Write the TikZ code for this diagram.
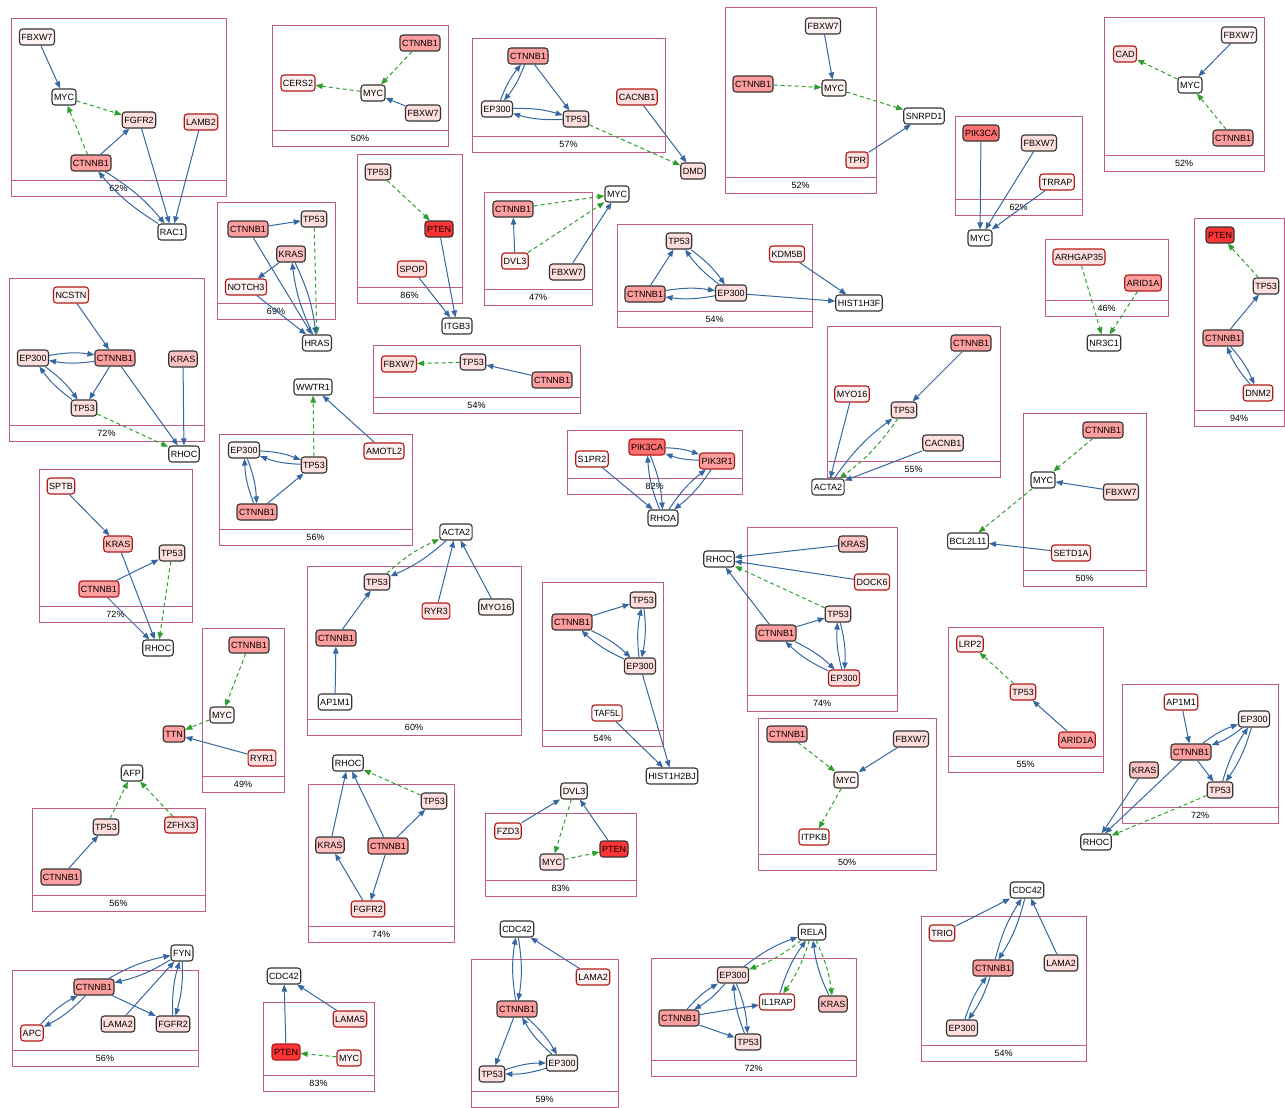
\documentclass[tikz,border=0pt]{standalone}
\usepackage{fontspec}
\setmainfont{Liberation Sans}
\usetikzlibrary{arrows.meta}
\definecolor{clusc}{HTML}{C25C86}
\definecolor{eblue}{HTML}{3567A0}
\definecolor{egreen}{HTML}{2E9E2E}
\definecolor{mutred}{HTML}{B01818}
\definecolor{lv0}{HTML}{FFFFFF}
\definecolor{lv1}{HTML}{FFF2F2}
\definecolor{lv2}{HTML}{FFDEDE}
\definecolor{lv3}{HTML}{FFC2C2}
\definecolor{lv4}{HTML}{FF9E9E}
\definecolor{lv5}{HTML}{FF7070}
\definecolor{lv6}{HTML}{FF3434}
\newcommand{\modframe}[6]{%
  \draw[clus] (#2,#3) rectangle (#4,#5);
  \draw[clus] (#2,#5-16) -- (#4,#5-16);
  \node[pct] (#1) at ({(#2+#4)/2},#5-8) {#6};}

\begin{document}
\begin{tikzpicture}[
  x=1pt, y=-1pt,
  >={Triangle[length=7pt,width=5.5pt]},
  gene/.style={draw=black!80, line width=1.1pt, rounded corners=3pt, fill=lv0, inner xsep=2pt, inner ysep=0pt, minimum height=16pt, font=\fontsize{9}{10}\selectfont},
  mut/.style={draw=mutred},
  pct/.style={font=\fontsize{9}{10}\selectfont, inner sep=0pt},
  clus/.style={draw=clusc, line width=1pt},
  arr/.style={->, draw=eblue, line width=1pt},
  act/.style={->, draw=egreen, line width=1pt, dash pattern=on 4pt off 3pt},
  arrb/.style={arr, bend left=9},
  actb/.style={act, bend left=9}
]
  \useasboundingbox (0,0) rectangle (1285,1108);

  \modframe{pct-a}{11}{19}{226}{196}{62\%}
  \modframe{pct-b}{272}{26}{448}{146}{50\%}
  \modframe{pct-c}{472}{39}{665}{152}{57\%}
  \modframe{pct-d}{725}{8}{876}{193}{52\%}
  \modframe{pct-e}{955}{116}{1082}{215}{62\%}
  \modframe{pct-f}{1104}{18}{1264}{171}{52\%}
  \modframe{pct-g}{1045}{239}{1168}{316}{46\%}
  \modframe{pct-h}{1194}{218}{1284}{426}{94\%}
  \modframe{pct-i}{217}{202}{335}{319}{69\%}
  \modframe{pct-j}{357}{154}{462}{303}{86\%}
  \modframe{pct-k}{484}{192}{592}{305}{47\%}
  \modframe{pct-l}{617}{224}{812}{327}{54\%}
  \modframe{pct-m}{9}{278}{204}{441}{72\%}
  \modframe{pct-n}{219}{434}{412}{545}{56\%}
  \modframe{pct-o}{373}{345}{580}{413}{54\%}
  \modframe{pct-p}{39}{469}{192}{622}{72\%}
  \modframe{pct-q}{202}{628}{284}{792}{49\%}
  \modframe{pct-r}{307}{566}{521}{735}{60\%}
  \modframe{pct-s}{567}{430}{742}{494}{82\%}
  \modframe{pct-t}{827}{326}{1000}{477}{55\%}
  \modframe{pct-u}{1023}{413}{1146}{586}{50\%}
  \modframe{pct-v}{747}{527}{897}{711}{74\%}
  \modframe{pct-w}{542}{582}{663}{746}{54\%}
  \modframe{pct-x}{948}{627}{1103}{772}{55\%}
  \modframe{pct-y}{1122}{684}{1278}{823}{72\%}
  \modframe{pct-z}{758}{718}{936}{870}{50\%}
  \modframe{pct-aa}{32}{808}{205}{911}{56\%}
  \modframe{pct-ab}{12}{970}{198}{1066}{56\%}
  \modframe{pct-ac}{263}{1002}{374}{1091}{83\%}
  \modframe{pct-ad}{308}{784}{454}{942}{74\%}
  \modframe{pct-ae}{485}{813}{636}{896}{83\%}
  \modframe{pct-af}{471}{959}{618}{1107}{59\%}
  \modframe{pct-ag}{651}{958}{856}{1076}{72\%}
  \modframe{pct-ah}{921}{916}{1086}{1061}{54\%}

  \node[gene, fill=lv1] (fbxw7-a) at (37,37) {FBXW7};
  \node[gene] (myc-a) at (64,97) {MYC};
  \node[gene, fill=lv2] (fgfr2-a) at (139,120) {FGFR2};
  \node[gene, mut, fill=lv2] (lamb2-a) at (201,122) {LAMB2};
  \node[gene, fill=lv4] (ctnnb1-a) at (91,163) {CTNNB1};
  \node[gene] (rac1-a) at (172,232) {RAC1};
  \draw[arr] (fbxw7-a) -- (myc-a);
  \draw[act] (myc-a) -- (fgfr2-a);
  \draw[act] (ctnnb1-a) -- (myc-a);
  \draw[arr] (ctnnb1-a) -- (fgfr2-a);
  \draw[arr] (fgfr2-a) -- (rac1-a);
  \draw[arr] (lamb2-a) -- (rac1-a);
  \draw[arrb] (ctnnb1-a) to (rac1-a);
  \draw[arrb] (rac1-a) to (ctnnb1-a);

  \node[gene, fill=lv4] (ctnnb1-b) at (420,43) {CTNNB1};
  \node[gene, fill=lv1] (myc-b) at (373,93) {MYC};
  \node[gene, fill=lv2] (fbxw7-b) at (423,113) {FBXW7};
  \node[gene, mut, fill=lv1] (cers2-b) at (298,83) {CERS2};
  \draw[act] (ctnnb1-b) -- (myc-b);
  \draw[arr] (fbxw7-b) -- (myc-b);
  \draw[act] (myc-b) -- (cers2-b);

  \node[gene, fill=lv4] (ctnnb1-c) at (528,56) {CTNNB1};
  \node[gene, fill=lv1] (ep300-c) at (497,109) {EP300};
  \node[gene, fill=lv2] (tp53-c) at (576,119) {TP53};
  \node[gene, mut, fill=lv2] (cacnb1-c) at (637,97) {CACNB1};
  \node[gene, fill=lv2] (dmd-c) at (693,171) {DMD};
  \draw[arrb] (ctnnb1-c) to (ep300-c);
  \draw[arrb] (ep300-c) to (ctnnb1-c);
  \draw[arr] (ctnnb1-c) -- (tp53-c);
  \draw[arrb] (ep300-c) to (tp53-c);
  \draw[arrb] (tp53-c) to (ep300-c);
  \draw[act] (tp53-c) -- (dmd-c);
  \draw[arr] (cacnb1-c) -- (dmd-c);

  \node[gene, fill=lv1] (fbxw7-d) at (823,26) {FBXW7};
  \node[gene, fill=lv4] (ctnnb1-d) at (753,84) {CTNNB1};
  \node[gene, fill=lv1] (myc-d) at (834,88) {MYC};
  \node[gene] (snrpd1-d) at (924,116) {SNRPD1};
  \node[gene, mut, fill=lv2] (tpr-d) at (857,160) {TPR};
  \draw[arr] (fbxw7-d) -- (myc-d);
  \draw[act] (ctnnb1-d) -- (myc-d);
  \draw[act] (myc-d) -- (snrpd1-d);
  \draw[arr] (tpr-d) -- (snrpd1-d);

  \node[gene, fill=lv5] (pik3ca-e) at (981,133) {PIK3CA};
  \node[gene, fill=lv2] (fbxw7-e) at (1039,143) {FBXW7};
  \node[gene, mut, fill=lv1] (trrap-e) at (1057,182) {TRRAP};
  \node[gene] (myc-e) at (980,238) {MYC};
  \draw[arr] (pik3ca-e) -- (myc-e);
  \draw[arr] (fbxw7-e) -- (myc-e);
  \draw[arr] (trrap-e) -- (myc-e);

  \node[gene, fill=lv1] (fbxw7-f) at (1239,35) {FBXW7};
  \node[gene, mut, fill=lv2] (cad-f) at (1125,54) {CAD};
  \node[gene] (myc-f) at (1190,85) {MYC};
  \node[gene, fill=lv4] (ctnnb1-f) at (1233,138) {CTNNB1};
  \draw[arr] (fbxw7-f) -- (myc-f);
  \draw[act] (myc-f) -- (cad-f);
  \draw[act] (ctnnb1-f) -- (myc-f);

  \node[gene, mut, fill=lv2] (arhgap35-g) at (1079,257) {ARHGAP35};
  \node[gene, mut, fill=lv4] (arid1a-g) at (1143,283) {ARID1A};
  \node[gene] (nr3c1-g) at (1104,343) {NR3C1};
  \draw[act] (arhgap35-g) -- (nr3c1-g);
  \draw[act] (arid1a-g) -- (nr3c1-g);

  \node[gene, fill=lv6] (pten-h) at (1220,235) {PTEN};
  \node[gene, fill=lv2] (tp53-h) at (1266,286) {TP53};
  \node[gene, fill=lv4] (ctnnb1-h) at (1223,338) {CTNNB1};
  \node[gene, mut, fill=lv1] (dnm2-h) at (1258,393) {DNM2};
  \draw[act] (tp53-h) -- (pten-h);
  \draw[arr] (ctnnb1-h) -- (tp53-h);
  \draw[arrb] (ctnnb1-h) to (dnm2-h);
  \draw[arrb] (dnm2-h) to (ctnnb1-h);

  \node[gene, fill=lv4] (ctnnb1-i) at (248,229) {CTNNB1};
  \node[gene, fill=lv2] (tp53-i) at (314,219) {TP53};
  \node[gene, fill=lv3] (kras-i) at (291,254) {KRAS};
  \node[gene, mut, fill=lv1] (notch3-i) at (246,287) {NOTCH3};
  \node[gene] (hras-i) at (317,343) {HRAS};
  \draw[arr] (ctnnb1-i) -- (tp53-i);
  \draw[act] (tp53-i) -- (hras-i);
  \draw[arr] (ctnnb1-i) -- (hras-i);
  \draw[arrb] (kras-i) to (hras-i);
  \draw[arrb] (hras-i) to (kras-i);
  \draw[arr] (kras-i) -- (notch3-i);
  \draw[arr] (notch3-i) -- (hras-i);

  \node[gene, fill=lv2] (tp53-j) at (378,172) {TP53};
  \node[gene, fill=lv6] (pten-j) at (439,229) {PTEN};
  \node[gene, mut, fill=lv2] (spop-j) at (412,269) {SPOP};
  \node[gene] (itgb3-j) at (457,326) {ITGB3};
  \draw[act] (tp53-j) -- (pten-j);
  \draw[arr] (pten-j) -- (itgb3-j);
  \draw[arr] (spop-j) -- (itgb3-j);

  \node[gene, fill=lv4] (ctnnb1-k) at (513,209) {CTNNB1};
  \node[gene] (myc-k) at (617,194) {MYC};
  \node[gene, mut, fill=lv1] (dvl3-k) at (515,261) {DVL3};
  \node[gene, fill=lv2] (fbxw7-k) at (567,272) {FBXW7};
  \draw[arr] (dvl3-k) -- (ctnnb1-k);
  \draw[act] (ctnnb1-k) -- (myc-k);
  \draw[act] (dvl3-k) -- (myc-k);
  \draw[arr] (fbxw7-k) -- (myc-k);

  \node[gene, fill=lv2] (tp53-l) at (679,241) {TP53};
  \node[gene, fill=lv4] (ctnnb1-l) at (645,294) {CTNNB1};
  \node[gene, fill=lv2] (ep300-l) at (731,293) {EP300};
  \node[gene, mut, fill=lv1] (kdm5b-l) at (787,254) {KDM5B};
  \node[gene] (hist1h3f-l) at (859,303) {HIST1H3F};
  \draw[arr] (ctnnb1-l) -- (tp53-l);
  \draw[arrb] (tp53-l) to (ep300-l);
  \draw[arrb] (ep300-l) to (tp53-l);
  \draw[arrb] (ctnnb1-l) to (ep300-l);
  \draw[arrb] (ep300-l) to (ctnnb1-l);
  \draw[arr] (ep300-l) -- (hist1h3f-l);
  \draw[arr] (kdm5b-l) -- (hist1h3f-l);

  \node[gene, mut, fill=lv1] (ncstn-m) at (71,295) {NCSTN};
  \node[gene, fill=lv2] (ep300-m) at (33,358) {EP300};
  \node[gene, fill=lv4] (ctnnb1-m) at (115,358) {CTNNB1};
  \node[gene, fill=lv3] (kras-m) at (183,359) {KRAS};
  \node[gene, fill=lv2] (tp53-m) at (84,408) {TP53};
  \node[gene] (rhoc-m) at (184,454) {RHOC};
  \draw[arr] (ncstn-m) -- (ctnnb1-m);
  \draw[arrb] (ep300-m) to (ctnnb1-m);
  \draw[arrb] (ctnnb1-m) to (ep300-m);
  \draw[arrb] (ep300-m) to (tp53-m);
  \draw[arrb] (tp53-m) to (ep300-m);
  \draw[arr] (ctnnb1-m) -- (tp53-m);
  \draw[arr] (ctnnb1-m) -- (rhoc-m);
  \draw[arr] (kras-m) -- (rhoc-m);
  \draw[act] (tp53-m) -- (rhoc-m);

  \node[gene] (wwtr1-n) at (313,387) {WWTR1};
  \node[gene, fill=lv1] (ep300-n) at (244,450) {EP300};
  \node[gene, fill=lv2] (tp53-n) at (314,465) {TP53};
  \node[gene, fill=lv4] (ctnnb1-n) at (257,512) {CTNNB1};
  \node[gene, mut, fill=lv1] (amotl2-n) at (384,451) {AMOTL2};
  \draw[arrb] (ep300-n) to (tp53-n);
  \draw[arrb] (tp53-n) to (ep300-n);
  \draw[arrb] (ep300-n) to (ctnnb1-n);
  \draw[arrb] (ctnnb1-n) to (ep300-n);
  \draw[arr] (ctnnb1-n) -- (tp53-n);
  \draw[act] (tp53-n) -- (wwtr1-n);
  \draw[arr] (amotl2-n) -- (wwtr1-n);

  \node[gene, mut, fill=lv2] (fbxw7-o) at (399,364) {FBXW7};
  \node[gene, fill=lv2] (tp53-o) at (473,362) {TP53};
  \node[gene, fill=lv4] (ctnnb1-o) at (552,380) {CTNNB1};
  \draw[act] (tp53-o) -- (fbxw7-o);
  \draw[arr] (ctnnb1-o) -- (tp53-o);

  \node[gene, mut, fill=lv1] (sptb-p) at (61,486) {SPTB};
  \node[gene, mut, fill=lv3] (kras-p) at (118,544) {KRAS};
  \node[gene, fill=lv2] (tp53-p) at (172,553) {TP53};
  \node[gene, mut, fill=lv4] (ctnnb1-p) at (99,589) {CTNNB1};
  \node[gene] (rhoc-p) at (158,648) {RHOC};
  \draw[arr] (sptb-p) -- (kras-p);
  \draw[arr] (kras-p) -- (rhoc-p);
  \draw[arr] (ctnnb1-p) -- (tp53-p);
  \draw[arr] (ctnnb1-p) -- (rhoc-p);
  \draw[act] (tp53-p) -- (rhoc-p);

  \node[gene, fill=lv4] (ctnnb1-q) at (249,645) {CTNNB1};
  \node[gene, fill=lv1] (myc-q) at (222,715) {MYC};
  \node[gene, fill=lv4] (ttn-q) at (174,734) {TTN};
  \node[gene, mut, fill=lv2] (ryr1-q) at (262,758) {RYR1};
  \draw[act] (ctnnb1-q) -- (myc-q);
  \draw[act] (myc-q) -- (ttn-q);
  \draw[arr] (ryr1-q) -- (ttn-q);

  \node[gene] (acta2-r) at (456,532) {ACTA2};
  \node[gene, fill=lv2] (tp53-r) at (377,582) {TP53};
  \node[gene, mut, fill=lv2] (ryr3-r) at (436,611) {RYR3};
  \node[gene, fill=lv1] (myo16-r) at (496,607) {MYO16};
  \node[gene, fill=lv4] (ctnnb1-r) at (336,638) {CTNNB1};
  \node[gene] (ap1m1-r) at (335,702) {AP1M1};
  \draw[actb] (tp53-r) to (acta2-r);
  \draw[arrb] (acta2-r) to (tp53-r);
  \draw[arr] (ryr3-r) -- (acta2-r);
  \draw[arr] (myo16-r) -- (acta2-r);
  \draw[arr] (ctnnb1-r) -- (tp53-r);
  \draw[arr] (ap1m1-r) -- (ctnnb1-r);

  \node[gene, mut] (s1pr2-s) at (592,459) {S1PR2};
  \node[gene, mut, fill=lv5] (pik3ca-s) at (647,447) {PIK3CA};
  \node[gene, mut, fill=lv4] (pik3r1-s) at (717,461) {PIK3R1};
  \node[gene] (rhoa-s) at (663,518) {RHOA};
  \draw[arrb] (pik3ca-s) to (pik3r1-s);
  \draw[arrb] (pik3r1-s) to (pik3ca-s);
  \draw[arrb] (pik3ca-s) to (rhoa-s);
  \draw[arrb] (rhoa-s) to (pik3ca-s);
  \draw[arrb] (pik3r1-s) to (rhoa-s);
  \draw[arrb] (rhoa-s) to (pik3r1-s);
  \draw[arr] (s1pr2-s) -- (rhoa-s);

  \node[gene, fill=lv4] (ctnnb1-t) at (971,343) {CTNNB1};
  \node[gene, mut, fill=lv1] (myo16-t) at (852,394) {MYO16};
  \node[gene, fill=lv2] (tp53-t) at (904,410) {TP53};
  \node[gene, fill=lv2] (cacnb1-t) at (943,443) {CACNB1};
  \node[gene] (acta2-t) at (828,487) {ACTA2};
  \draw[arr] (ctnnb1-t) -- (tp53-t);
  \draw[arr] (myo16-t) -- (acta2-t);
  \draw[arrb] (acta2-t) to (tp53-t);
  \draw[actb] (tp53-t) to (acta2-t);
  \draw[arr] (cacnb1-t) -- (acta2-t);

  \node[gene, fill=lv4] (ctnnb1-u) at (1103,430) {CTNNB1};
  \node[gene] (myc-u) at (1043,480) {MYC};
  \node[gene, fill=lv2] (fbxw7-u) at (1121,492) {FBXW7};
  \node[gene] (bcl2l11-u) at (968,541) {BCL2L11};
  \node[gene, mut, fill=lv1] (setd1a-u) at (1071,553) {SETD1A};
  \draw[act] (ctnnb1-u) -- (myc-u);
  \draw[arr] (fbxw7-u) -- (myc-u);
  \draw[act] (myc-u) -- (bcl2l11-u);
  \draw[arr] (setd1a-u) -- (bcl2l11-u);

  \node[gene] (rhoc-v) at (719,559) {RHOC};
  \node[gene, fill=lv3] (kras-v) at (853,544) {KRAS};
  \node[gene, mut, fill=lv1] (dock6-v) at (872,582) {DOCK6};
  \node[gene, fill=lv2] (tp53-v) at (838,614) {TP53};
  \node[gene, fill=lv4] (ctnnb1-v) at (776,633) {CTNNB1};
  \node[gene, mut, fill=lv2] (ep300-v) at (844,678) {EP300};
  \draw[arr] (kras-v) -- (rhoc-v);
  \draw[arr] (dock6-v) -- (rhoc-v);
  \draw[arr] (ctnnb1-v) -- (rhoc-v);
  \draw[act] (tp53-v) -- (rhoc-v);
  \draw[arr] (ctnnb1-v) -- (tp53-v);
  \draw[arrb] (ctnnb1-v) to (ep300-v);
  \draw[arrb] (ep300-v) to (ctnnb1-v);
  \draw[arrb] (tp53-v) to (ep300-v);
  \draw[arrb] (ep300-v) to (tp53-v);

  \node[gene, fill=lv2] (tp53-w) at (643,600) {TP53};
  \node[gene, fill=lv4] (ctnnb1-w) at (572,622) {CTNNB1};
  \node[gene, fill=lv2] (ep300-w) at (640,666) {EP300};
  \node[gene, mut] (taf5l-w) at (607,713) {TAF5L};
  \node[gene] (hist1h2bj-w) at (672,776) {HIST1H2BJ};
  \draw[arr] (ctnnb1-w) -- (tp53-w);
  \draw[arrb] (tp53-w) to (ep300-w);
  \draw[arrb] (ep300-w) to (tp53-w);
  \draw[arrb] (ctnnb1-w) to (ep300-w);
  \draw[arrb] (ep300-w) to (ctnnb1-w);
  \draw[arr] (ep300-w) -- (hist1h2bj-w);
  \draw[arr] (taf5l-w) -- (hist1h2bj-w);

  \node[gene, mut, fill=lv1] (lrp2-x) at (970,644) {LRP2};
  \node[gene, mut, fill=lv2] (tp53-x) at (1023,692) {TP53};
  \node[gene, mut, fill=lv4] (arid1a-x) at (1077,740) {ARID1A};
  \draw[act] (tp53-x) -- (lrp2-x);
  \draw[arr] (arid1a-x) -- (tp53-x);

  \node[gene, mut] (ap1m1-y) at (1181,702) {AP1M1};
  \node[gene, fill=lv1] (ep300-y) at (1254,719) {EP300};
  \node[gene, fill=lv4] (ctnnb1-y) at (1191,752) {CTNNB1};
  \node[gene, fill=lv3] (kras-y) at (1144,770) {KRAS};
  \node[gene, fill=lv2] (tp53-y) at (1220,790) {TP53};
  \node[gene] (rhoc-y) at (1096,842) {RHOC};
  \draw[arr] (ap1m1-y) -- (ctnnb1-y);
  \draw[arrb] (ctnnb1-y) to (ep300-y);
  \draw[arrb] (ep300-y) to (ctnnb1-y);
  \draw[arrb] (ep300-y) to (tp53-y);
  \draw[arrb] (tp53-y) to (ep300-y);
  \draw[arr] (ctnnb1-y) -- (tp53-y);
  \draw[arr] (kras-y) -- (rhoc-y);
  \draw[arr] (ctnnb1-y) -- (rhoc-y);
  \draw[act] (tp53-y) -- (rhoc-y);

  \node[gene, fill=lv4] (ctnnb1-z) at (787,734) {CTNNB1};
  \node[gene, fill=lv2] (fbxw7-z) at (911,739) {FBXW7};
  \node[gene, fill=lv1] (myc-z) at (846,780) {MYC};
  \node[gene, mut] (itpkb-z) at (814,837) {ITPKB};
  \draw[act] (ctnnb1-z) -- (myc-z);
  \draw[arr] (fbxw7-z) -- (myc-z);
  \draw[act] (myc-z) -- (itpkb-z);

  \node[gene] (afp-aa) at (132,773) {AFP};
  \node[gene, fill=lv2] (tp53-aa) at (106,827) {TP53};
  \node[gene, mut, fill=lv2] (zfhx3-aa) at (181,825) {ZFHX3};
  \node[gene, fill=lv4] (ctnnb1-aa) at (61,877) {CTNNB1};
  \draw[act] (tp53-aa) -- (afp-aa);
  \draw[act] (zfhx3-aa) -- (afp-aa);
  \draw[arr] (ctnnb1-aa) -- (tp53-aa);

  \node[gene] (fyn-ab) at (182,953) {FYN};
  \node[gene, fill=lv4] (ctnnb1-ab) at (94,987) {CTNNB1};
  \node[gene, mut, fill=lv1] (apc-ab) at (32,1033) {APC};
  \node[gene, fill=lv2] (lama2-ab) at (118,1024) {LAMA2};
  \node[gene, fill=lv2] (fgfr2-ab) at (173,1024) {FGFR2};
  \draw[arrb] (ctnnb1-ab) to (fyn-ab);
  \draw[arrb] (fyn-ab) to (ctnnb1-ab);
  \draw[arrb] (ctnnb1-ab) to (apc-ab);
  \draw[arrb] (apc-ab) to (ctnnb1-ab);
  \draw[arr] (ctnnb1-ab) -- (fgfr2-ab);
  \draw[arr] (lama2-ab) -- (fyn-ab);
  \draw[arrb] (fgfr2-ab) to (fyn-ab);
  \draw[arrb] (fyn-ab) to (fgfr2-ab);

  \node[gene] (cdc42-ac) at (284,976) {CDC42};
  \node[gene, mut, fill=lv6] (pten-ac) at (286,1052) {PTEN};
  \node[gene, mut, fill=lv2] (lama5-ac) at (350,1019) {LAMA5};
  \node[gene, mut, fill=lv1] (myc-ac) at (349,1058) {MYC};
  \draw[arr] (pten-ac) -- (cdc42-ac);
  \draw[arr] (lama5-ac) -- (cdc42-ac);
  \draw[act] (myc-ac) -- (pten-ac);

  \node[gene] (rhoc-ad) at (348,763) {RHOC};
  \node[gene, fill=lv2] (tp53-ad) at (434,801) {TP53};
  \node[gene, fill=lv3] (kras-ad) at (330,845) {KRAS};
  \node[gene, fill=lv4] (ctnnb1-ad) at (388,846) {CTNNB1};
  \node[gene, mut, fill=lv2] (fgfr2-ad) at (368,909) {FGFR2};
  \draw[arr] (kras-ad) -- (rhoc-ad);
  \draw[arr] (ctnnb1-ad) -- (rhoc-ad);
  \draw[act] (tp53-ad) -- (rhoc-ad);
  \draw[arr] (ctnnb1-ad) -- (tp53-ad);
  \draw[arr] (ctnnb1-ad) -- (fgfr2-ad);
  \draw[arr] (fgfr2-ad) -- (kras-ad);

  \node[gene, fill=lv1] (dvl3-ae) at (574,791) {DVL3};
  \node[gene, mut, fill=lv1] (fzd3-ae) at (508,831) {FZD3};
  \node[gene, fill=lv2] (myc-ae) at (552,862) {MYC};
  \node[gene, fill=lv6] (pten-ae) at (614,849) {PTEN};
  \draw[arr] (fzd3-ae) -- (dvl3-ae);
  \draw[act] (dvl3-ae) -- (myc-ae);
  \draw[arr] (pten-ae) -- (dvl3-ae);
  \draw[act] (myc-ae) -- (pten-ae);

  \node[gene] (cdc42-af) at (517,929) {CDC42};
  \node[gene, mut, fill=lv1] (lama2-af) at (593,977) {LAMA2};
  \node[gene, fill=lv4] (ctnnb1-af) at (517,1009) {CTNNB1};
  \node[gene, fill=lv2] (tp53-af) at (492,1074) {TP53};
  \node[gene, fill=lv1] (ep300-af) at (562,1063) {EP300};
  \draw[arrb] (cdc42-af) to (ctnnb1-af);
  \draw[arrb] (ctnnb1-af) to (cdc42-af);
  \draw[arr] (lama2-af) -- (cdc42-af);
  \draw[arr] (ctnnb1-af) -- (tp53-af);
  \draw[arrb] (ctnnb1-af) to (ep300-af);
  \draw[arrb] (ep300-af) to (ctnnb1-af);
  \draw[arrb] (ep300-af) to (tp53-af);
  \draw[arrb] (tp53-af) to (ep300-af);

  \node[gene] (rela-ag) at (812,932) {RELA};
  \node[gene, fill=lv2] (ep300-ag) at (733,975) {EP300};
  \node[gene, mut] (il1rap-ag) at (777,1002) {IL1RAP};
  \node[gene, fill=lv3] (kras-ag) at (833,1004) {KRAS};
  \node[gene, fill=lv4] (ctnnb1-ag) at (679,1018) {CTNNB1};
  \node[gene, fill=lv2] (tp53-ag) at (748,1042) {TP53};
  \draw[arrb] (ep300-ag) to (rela-ag);
  \draw[actb] (rela-ag) to (ep300-ag);
  \draw[arrb] (il1rap-ag) to (rela-ag);
  \draw[actb] (rela-ag) to (il1rap-ag);
  \draw[arrb] (kras-ag) to (rela-ag);
  \draw[actb] (rela-ag) to (kras-ag);
  \draw[arrb] (ctnnb1-ag) to (ep300-ag);
  \draw[arrb] (ep300-ag) to (ctnnb1-ag);
  \draw[arr] (ctnnb1-ag) -- (il1rap-ag);
  \draw[arr] (ctnnb1-ag) -- (tp53-ag);
  \draw[arrb] (ep300-ag) to (tp53-ag);
  \draw[arrb] (tp53-ag) to (ep300-ag);

  \node[gene, mut, fill=lv1] (trio-ah) at (942,933) {TRIO};
  \node[gene] (cdc42-ah) at (1027,890) {CDC42};
  \node[gene, fill=lv4] (ctnnb1-ah) at (993,968) {CTNNB1};
  \node[gene, fill=lv2] (lama2-ah) at (1061,963) {LAMA2};
  \node[gene, fill=lv2] (ep300-ah) at (962,1028) {EP300};
  \draw[arr] (trio-ah) -- (cdc42-ah);
  \draw[arrb] (cdc42-ah) to (ctnnb1-ah);
  \draw[arrb] (ctnnb1-ah) to (cdc42-ah);
  \draw[arr] (lama2-ah) -- (cdc42-ah);
  \draw[arrb] (ctnnb1-ah) to (ep300-ah);
  \draw[arrb] (ep300-ah) to (ctnnb1-ah);
\end{tikzpicture}
\end{document}
